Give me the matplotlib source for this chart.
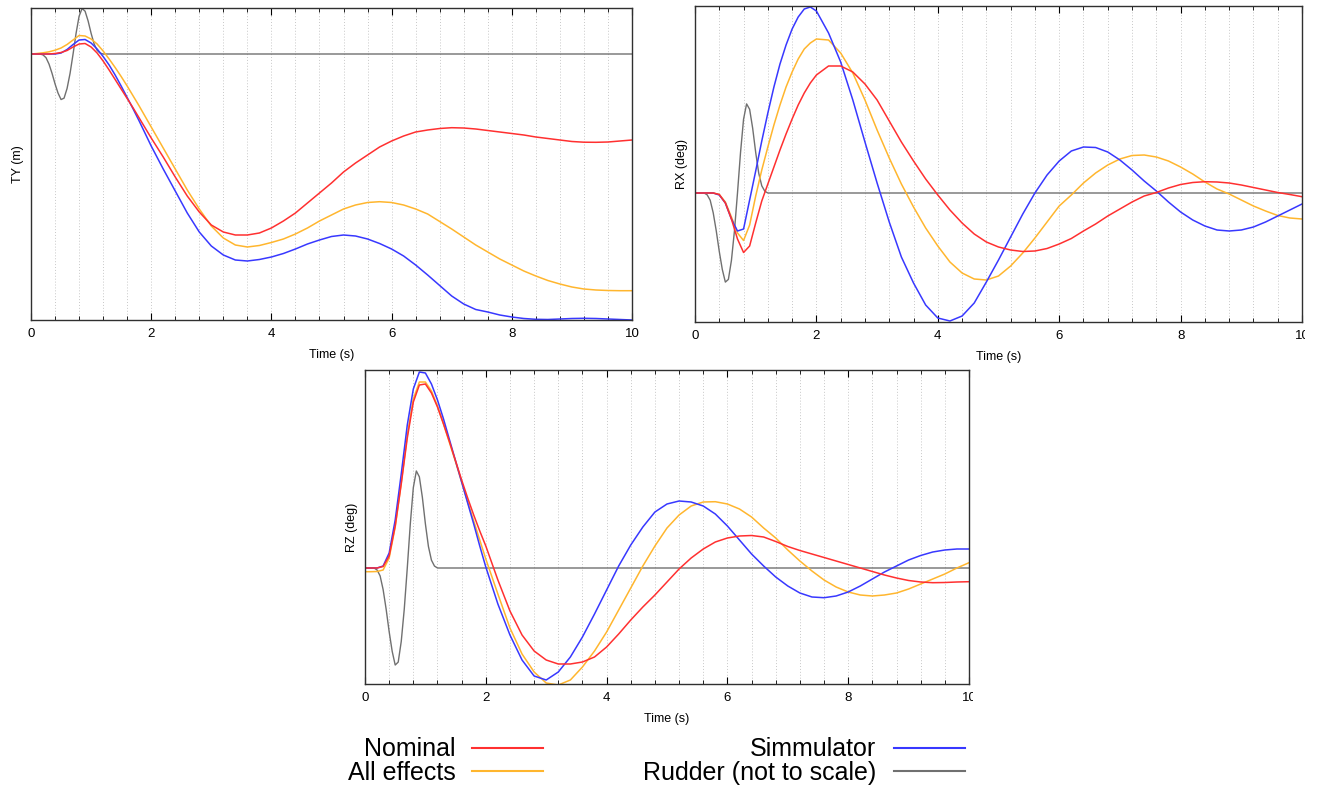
import numpy as np
import matplotlib.pyplot as plt
from matplotlib.ticker import MultipleLocator
from matplotlib.transforms import Bbox, TransformedBbox

plt.rcParams['font.family'] = ['Liberation Sans', 'DejaVu Sans']

# time axis: 0.1 s samples up to 2 s, then 0.2 s
t = np.round(np.concatenate([np.arange(0, 2.0, 0.1), np.arange(2.0, 10.01, 0.2)]), 1)

# TY (m)
ty_nominal = [0, 0, 0, 0, 0.05, 0.15, 0.35, 0.7, 1.0, 1.05,
              0.7, 0.1, -0.7, -1.6, -2.55, -3.5, -4.45, -5.4, -6.4, -7.4, -8.4,
              -10.3, -12.3, -14.2, -15.8, -17.1, -17.8, -18.1, -18.1, -17.9,
              -17.4, -16.7, -15.9, -14.9, -13.9, -12.9, -11.8, -10.9, -10.1, -9.3,
              -8.7, -8.2, -7.8, -7.6, -7.45, -7.37, -7.4, -7.5, -7.65, -7.8,
              -7.95, -8.1, -8.3, -8.45, -8.6, -8.75, -8.82, -8.83, -8.8, -8.7, -8.6]
ty_all = [0, 0.05, 0.12, 0.22, 0.38, 0.6, 0.95, 1.4, 1.85, 1.8,
          1.5, 1.0, 0.3, -0.5, -1.35, -2.25, -3.2, -4.2, -5.2, -6.25, -7.3,
          -9.4, -11.5, -13.6, -15.5, -17.2, -18.4, -19.1, -19.3, -19.15,
          -18.85, -18.5, -18.0, -17.4, -16.7, -16.1, -15.5, -15.1, -14.85, -14.77,
          -14.85, -15.1, -15.5, -16.0, -16.75, -17.5, -18.3, -19.1, -19.8, -20.5,
          -21.1, -21.7, -22.2, -22.65, -23.0, -23.3, -23.5, -23.6, -23.65, -23.67, -23.67]
ty_sim = [0, 0, 0, 0, 0, 0.1, 0.45, 0.95, 1.4, 1.45,
          1.1, 0.5, -0.25, -1.1, -2.1, -3.2, -4.35, -5.5, -6.7, -7.95, -9.2,
          -11.5, -13.7, -15.9, -17.8, -19.2, -20.1, -20.6, -20.7, -20.55,
          -20.3, -19.95, -19.5, -19.0, -18.6, -18.25, -18.1, -18.2, -18.5, -18.95,
          -19.5, -20.2, -21.1, -22.1, -23.15, -24.2, -25.0, -25.55, -25.8, -26.1,
          -26.3, -26.45, -26.53, -26.55, -26.5, -26.45, -26.43, -26.45, -26.5, -26.55, -26.6]

# RX (deg)
rx_nominal = [0, 0, 0, 0, -0.15, -1.0, -2.6, -4.6, -5.95, -5.3,
              -3.0, -0.8, 0.9, 2.6, 4.3, 5.9, 7.4, 8.8, 10.0, 11.0, 11.8,
              12.7, 12.7, 12.1, 10.9, 9.3, 7.2, 5.1, 3.2, 1.4,
              -0.2, -1.7, -3.0, -4.1, -4.9, -5.4, -5.7, -5.85, -5.8, -5.55,
              -5.1, -4.55, -3.8, -3.1, -2.3, -1.6, -0.9, -0.3, 0.05, 0.5,
              0.85, 1.05, 1.13, 1.1, 1.0, 0.8, 0.55, 0.3, 0.05, -0.15, -0.37]
rx_all = [0, 0, 0, 0, -0.15, -0.9, -2.4, -4.0, -4.75, -3.2,
          -0.3, 2.3, 4.6, 6.8, 8.8, 10.6, 12.1, 13.4, 14.4, 15.0, 15.4,
          15.3, 14.0, 12.0, 9.3, 6.3, 3.5, 0.9, -1.4, -3.5,
          -5.3, -6.9, -8.0, -8.6, -8.7, -8.3, -7.3, -6.0, -4.5, -2.9,
          -1.3, -0.2, 1.0, 2.0, 2.8, 3.4, 3.75, 3.8, 3.6, 3.2,
          2.6, 1.9, 1.1, 0.4, -0.1, -0.7, -1.3, -1.8, -2.25, -2.5, -2.6]
rx_sim = [0, 0, 0, 0, -0.2, -1.0, -2.6, -3.8, -3.6, -0.7,
          2.2, 5.2, 8.0, 10.6, 12.9, 14.8, 16.4, 17.6, 18.4, 18.6, 18.2,
          16.0, 13.1, 9.3, 5.1, 1.0, -2.9, -6.4, -9.0, -11.2,
          -12.5, -12.8, -12.3, -11.0, -8.9, -6.7, -4.4, -2.1, 0.0, 1.8,
          3.2, 4.2, 4.6, 4.55, 4.1, 3.3, 2.3, 1.2, 0.2, -0.9,
          -1.9, -2.7, -3.3, -3.7, -3.8, -3.7, -3.4, -2.9, -2.3, -1.7, -1.1]

# RZ (deg)
rz_nominal = [0, 0, 0, 0.15, 1.2, 4.2, 8.4, 13.0, 16.6, 18.3,
              18.4, 17.5, 16.1, 14.4, 12.6, 10.7, 8.8, 7.0, 5.3, 3.7, 2.2,
              -1.2, -4.3, -6.7, -8.3, -9.2, -9.6, -9.6, -9.4, -8.9,
              -7.9, -6.6, -5.2, -3.9, -2.7, -1.4, -0.1, 1.0, 1.9, 2.6,
              3.0, 3.2, 3.25, 3.1, 2.65, 2.15, 1.75, 1.4, 1.05, 0.7,
              0.35, 0.0, -0.35, -0.7, -1.0, -1.25, -1.4, -1.47, -1.45, -1.4, -1.37]
rz_all = [-0.37, -0.37, -0.35, -0.2, 1.0, 4.1, 8.5, 13.3, 16.9, 18.6,
          18.6, 17.7, 16.2, 14.4, 12.5, 10.6, 8.6, 6.6, 4.7, 2.8, 0.9,
          -2.6, -6.0, -8.6, -10.4, -11.5, -11.7, -11.2, -9.9, -8.3,
          -6.4, -4.2, -2.0, 0.2, 2.2, 4.0, 5.3, 6.2, 6.6, 6.63,
          6.4, 5.9, 5.1, 4.0, 3.0, 1.8, 0.7, -0.3, -1.2, -1.9,
          -2.4, -2.7, -2.8, -2.7, -2.5, -2.1, -1.6, -1.1, -0.6, 0.0, 0.53]
rz_sim = [0, 0, 0, 0.2, 1.5, 4.8, 9.4, 14.3, 17.9, 19.6,
          19.5, 18.4, 16.8, 14.9, 12.8, 10.7, 8.6, 6.5, 4.4, 2.2, 0.1,
          -3.6, -6.7, -9.2, -10.8, -11.2, -10.4, -8.9, -6.9, -4.6,
          -2.2, 0.2, 2.3, 4.1, 5.6, 6.4, 6.7, 6.6, 6.2, 5.4,
          4.2, 2.8, 1.4, 0.2, -0.9, -1.8, -2.5, -2.9, -2.97, -2.8,
          -2.4, -1.8, -1.1, -0.4, 0.2, 0.8, 1.25, 1.6, 1.8, 1.9, 1.9]

# rudder command, normalised (not to scale)
rudder_t = [0, 0.15, 0.2, 0.25, 0.3, 0.35, 0.4, 0.45, 0.5, 0.55, 0.6, 0.65,
            0.7, 0.75, 0.8, 0.85, 0.9, 0.95, 1.0, 1.05, 1.1, 1.15, 1.2, 10]
rudder = [0, 0, -0.02, -0.08, -0.22, -0.42, -0.65, -0.85, -0.99, -0.96, -0.75, -0.42,
          0.0, 0.45, 0.82, 0.99, 0.93, 0.72, 0.45, 0.22, 0.08, 0.02, 0, 0]

C_NOM = '#ff3030'
C_ALL = '#ffb62e'
C_SIM = '#3838ff'
C_RUD = '#707070'

W, H = 1323, 791
fig = plt.figure(figsize=(W / 100, H / 100), dpi=100)


def px_axes(x0, y0, x1, y1):
    return fig.add_axes([x0 / W, 1 - y1 / H, (x1 - x0) / W, (y1 - y0) / H])


def style(ax, ylabel, ylim):
    ax.set_xlim(0, 10)
    ax.set_ylim(*ylim)
    ax.set_xticks([0, 2, 4, 6, 8, 10])
    ax.xaxis.set_minor_locator(MultipleLocator(0.4))
    ax.set_yticks([])
    ax.tick_params(axis='x', which='both', direction='in', top=True, labelsize=9.5, pad=6)
    ax.tick_params(axis='x', which='major', length=5, width=0.8)
    ax.tick_params(axis='x', which='minor', length=3, width=0.6)
    ax.grid(True, axis='x', which='both', ls=(0, (1, 2)), color='#c8c8c8', lw=0.7)
    ax.set_axisbelow(True)
    ax.set_xlabel('Time (s)', fontsize=9, labelpad=6)
    ax.set_ylabel(ylabel, fontsize=9, labelpad=5)
    for s in ax.spines.values():
        s.set_linewidth(1.0)
        s.set_color('#303030')


def draw(ax, nom, allfx, sim, rud_scale):
    ax.plot(rudder_t, np.array(rudder) * rud_scale, color=C_RUD, lw=1.0)
    ax.plot(t, allfx, color=C_ALL, lw=1.1)
    ax.plot(t, sim, color=C_SIM, lw=1.1)
    ax.plot(t, nom, color=C_NOM, lw=1.1)


ax_ty = px_axes(31, 8, 632, 320)
draw(ax_ty, ty_nominal, ty_all, ty_sim, 4.6)
style(ax_ty, 'TY (m)', (-26.6, 4.6))

ax_rx = px_axes(695, 6, 1302, 322)
draw(ax_rx, rx_nominal, rx_all, rx_sim, 9.0)
style(ax_rx, 'RX (deg)', (-12.9, 18.7))

ax_rz = px_axes(365, 370, 969, 684)
draw(ax_rz, rz_nominal, rz_all, rz_sim, 9.8)
style(ax_rz, 'RZ (deg)', (-11.6, 19.8))

# the "10" labels of the right and bottom panels are cut in the original
for ax, xcut in [(ax_rx, 1305), (ax_rz, 973)]:
    lab = ax.get_xticklabels()[-1]
    lab.set_clip_box(TransformedBbox(Bbox([[0, 0], [xcut / W, 1]]), fig.transFigure))
    lab.set_clip_on(True)

handles = [plt.Line2D([], [], color=c, lw=1.5) for c in (C_NOM, C_ALL, C_SIM, C_RUD)]
labels = ['Nominal', 'All effects', 'Simmulator', 'Rudder (not to scale)']
fig.legend(handles, labels, loc='center', bbox_to_anchor=(656 / W, 1 - 761 / H),
           ncol=2, markerfirst=False, frameon=False, fontsize=18,
           handlelength=2.84, handletextpad=0.68, columnspacing=4.0, labelspacing=-0.02,
           borderpad=0.2)

fig.savefig('out.png', dpi=100)
